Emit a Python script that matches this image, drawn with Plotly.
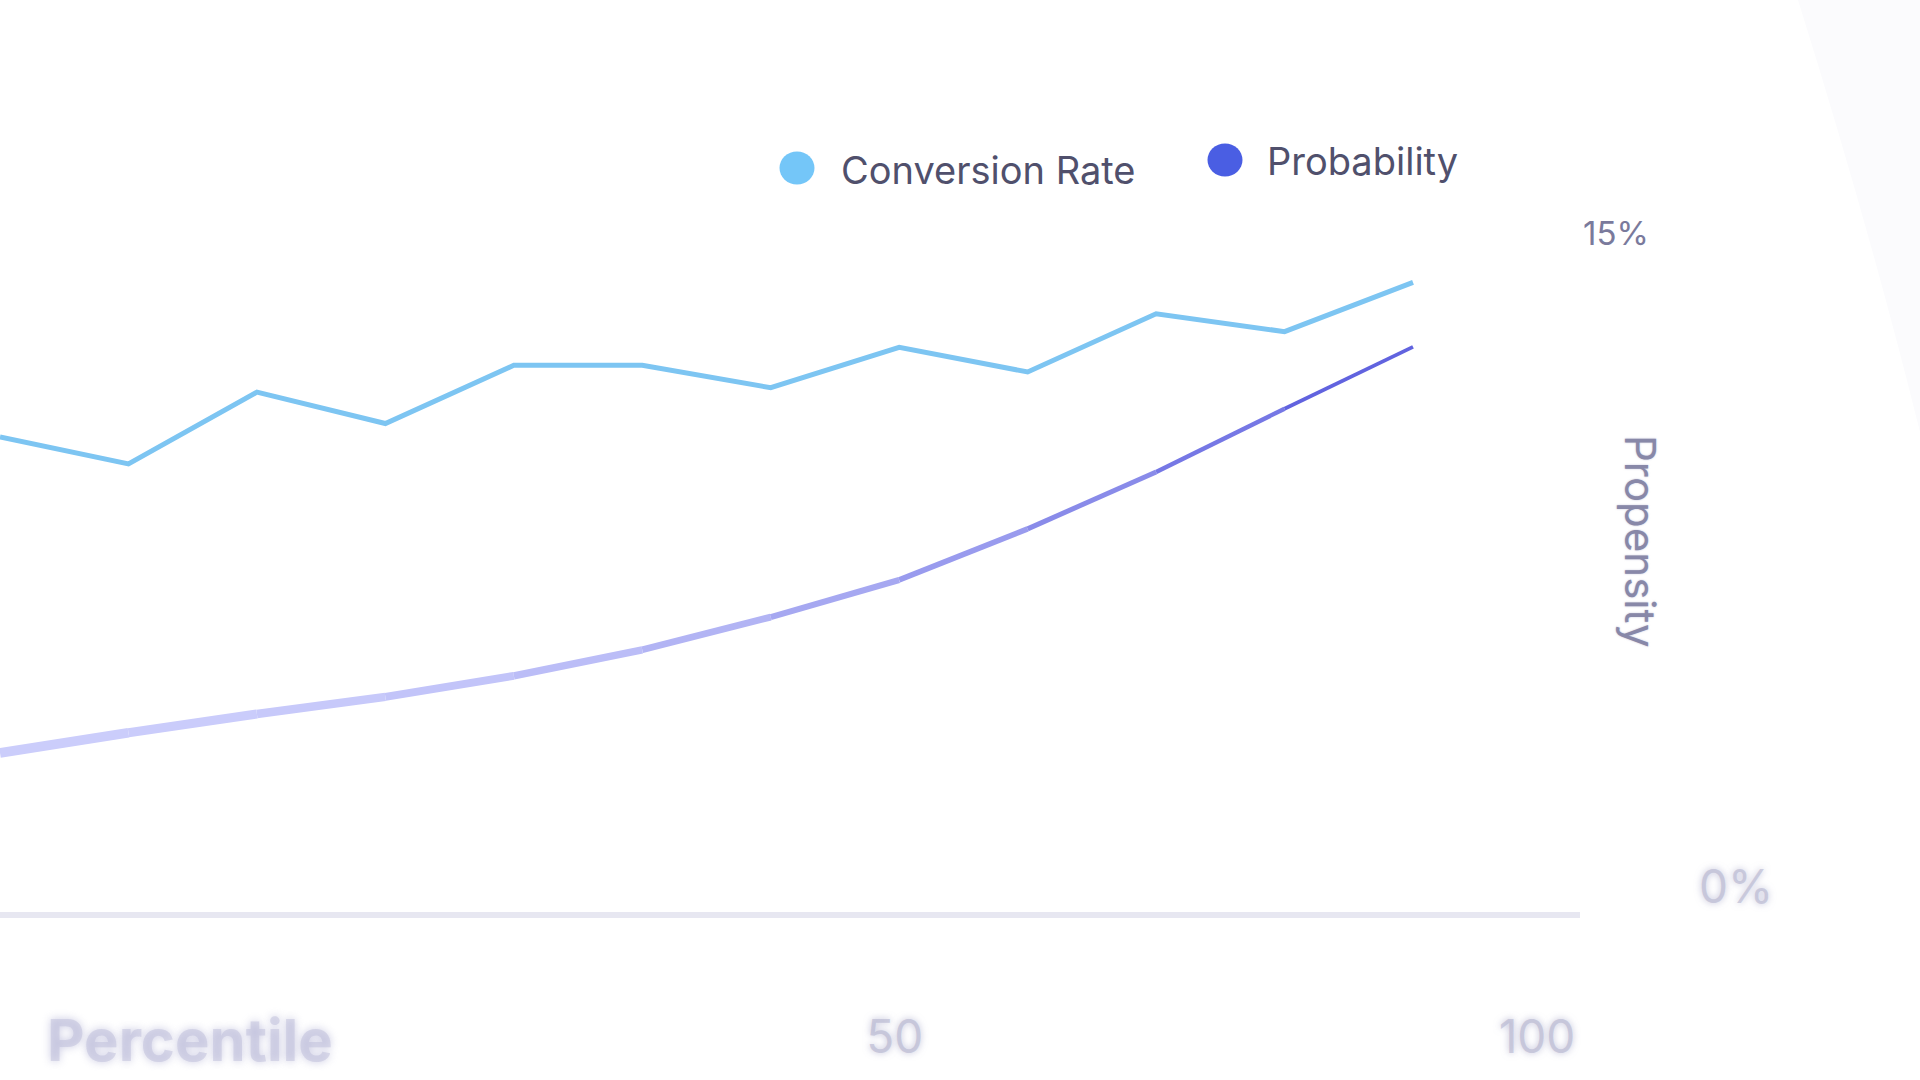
import plotly.graph_objects as go

# ---------------- data ----------------
PERCENTILE = [-10, 0, 10, 20, 30, 40, 50, 60, 70, 80, 90, 100]
CONVERSION_RATE = [10.6, 10.0, 11.6, 10.9, 12.2, 12.2, 11.7, 12.6, 12.05, 13.35, 12.95, 14.05]
PROBABILITY = [3.55, 4.0, 4.42, 4.8, 5.27, 5.85, 6.58, 7.41, 8.55, 9.82, 11.23, 12.61]
SERIES = ["Conversion Rate", "Probability"]
X_TICKS = [50, 100]
X_TICK_LABELS = ["50", "100"]
Y_TOP_TICKS = [15]
Y_TOP_LABELS = ["15%"]
Y_BASE_TICKS = [0]
Y_BASE_LABELS = ["0%"]
X_TITLE = "Percentile"
Y_TITLE = "Propensity"

# ---------------- layout constants ----------------
W, H = 1920, 1080
ML, MR, MT, MB = 0, 340, 195, 168
PW, PH = W - ML - MR, H - MT - MB
X_RANGE = [-10, 113]
Y_RANGE = [0, 16]

CR_COLOR = "#7dc5f2"
PROB_LEFT = (203, 205, 251)
PROB_RIGHT = (86, 88, 220)
TEXT_DARK = "#50506c"
FONT = "Inter"


def px_x(px):
    return (px - ML) / PW


def px_y(py):
    return (H - MB - py) / PH


BLUR_FONT = dict(family=FONT, size=46, color="rgba(180,180,206,0.6)",
                 shadow="0px 0px 7px rgba(140,140,185,0.95)")

fig = go.Figure()

# Probability: drawn as segments so the line can fade from light lavender to deep blue
n = len(PERCENTILE)
for i in range(n - 1):
    t = (i + 0.5) / (n - 1)
    e = t ** 2.2
    c = tuple(int(round(PROB_LEFT[k] + (PROB_RIGHT[k] - PROB_LEFT[k]) * e)) for k in range(3))
    width = 10 - 6.5 * t
    fig.add_trace(go.Scatter(
        x=PERCENTILE[i:i + 2], y=PROBABILITY[i:i + 2], mode="lines",
        name=SERIES[1], legendgroup=SERIES[1], showlegend=False,
        line=dict(color="rgb(%d,%d,%d)" % c, width=width),
        hoverinfo="skip", yaxis="y",
    ))

# Conversion rate
fig.add_trace(go.Scatter(
    x=PERCENTILE, y=CONVERSION_RATE, mode="lines", name=SERIES[0],
    showlegend=False, line=dict(color=CR_COLOR, width=5), yaxis="y2",
))

shapes = []
# faint device edge at the top right
shapes.append(dict(
    type="path", xref="paper", yref="paper", layer="below",
    path="M %f,%f Q %f,%f %f,%f L %f,%f Z" % (
        px_x(1798), px_y(0), px_x(1870), px_y(230), px_x(1920), px_y(432),
        px_x(1920), px_y(0)),
    fillcolor="#fbfbfd", line=dict(width=0),
))
# legend swatches
for cx, cy, col in [(797, 168, "#74c6f8"), (1225, 160, "#4a5ee3")]:
    shapes.append(dict(
        type="circle", xref="paper", yref="paper",
        xsizemode="pixel", ysizemode="pixel",
        xanchor=px_x(cx), yanchor=px_y(cy),
        x0=-17.5, x1=17.5, y0=-16.5, y1=16.5,
        fillcolor=col, line=dict(width=0),
    ))

annotations = [
    dict(text=SERIES[0], xref="paper", yref="paper", x=px_x(839), y=px_y(170),
         xanchor="left", yanchor="middle", showarrow=False,
         font=dict(family=FONT, size=38, color=TEXT_DARK)),
    dict(text=SERIES[1], xref="paper", yref="paper", x=px_x(1265), y=px_y(161),
         xanchor="left", yanchor="middle", showarrow=False,
         font=dict(family=FONT, size=38, color=TEXT_DARK)),
    dict(text=Y_TITLE, xref="paper", yref="paper", x=px_x(1641), y=px_y(541),
         xanchor="center", yanchor="middle", showarrow=False, textangle=90,
         font=dict(family=FONT, size=42, color="#8888a8",
                   shadow="0px 0px 2px rgba(150,150,190,0.6)")),
    dict(text=X_TITLE, xref="paper", yref="paper", x=px_x(190), y=px_y(1040),
         xanchor="center", yanchor="middle", showarrow=False,
         font=dict(family=FONT, size=58, weight=700, color="rgba(190,190,218,0.5)",
                   shadow="0px 0px 9px rgba(145,145,195,0.95)")),
]

fig.update_layout(
    width=W, height=H,
    margin=dict(l=ML, r=MR, t=MT, b=MB, pad=0),
    paper_bgcolor="white", plot_bgcolor="white",
    showlegend=False,
    shapes=shapes, annotations=annotations,
    xaxis=dict(
        range=X_RANGE, showgrid=False, zeroline=False,
        showline=True, linecolor="#e7e7f1", linewidth=6,
        tickmode="array", tickvals=X_TICKS, ticktext=X_TICK_LABELS,
        ticks="", tickfont=BLUR_FONT, ticklabelstandoff=80, ticklabelshift=124,
    ),
    yaxis=dict(
        range=Y_RANGE, side="right", showgrid=False, zeroline=False, showline=False,
        tickmode="array", tickvals=Y_TOP_TICKS, ticktext=Y_TOP_LABELS, ticks="",
        tickfont=dict(family=FONT, size=33, color="#7a7a9c"),
        ticklabelstandoff=2, ticklabelshift=-6,
    ),
    yaxis2=dict(
        range=Y_RANGE, overlaying="y", side="right", showgrid=False,
        zeroline=False, showline=False,
        tickmode="array", tickvals=Y_BASE_TICKS, ticktext=Y_BASE_LABELS, ticks="",
        tickfont=BLUR_FONT, ticklabelstandoff=118, ticklabelshift=-25,
    ),
)

fig.write_html("out.html", config={"displayModeBar": False},
               post_script="document.body.style.margin='0';")
